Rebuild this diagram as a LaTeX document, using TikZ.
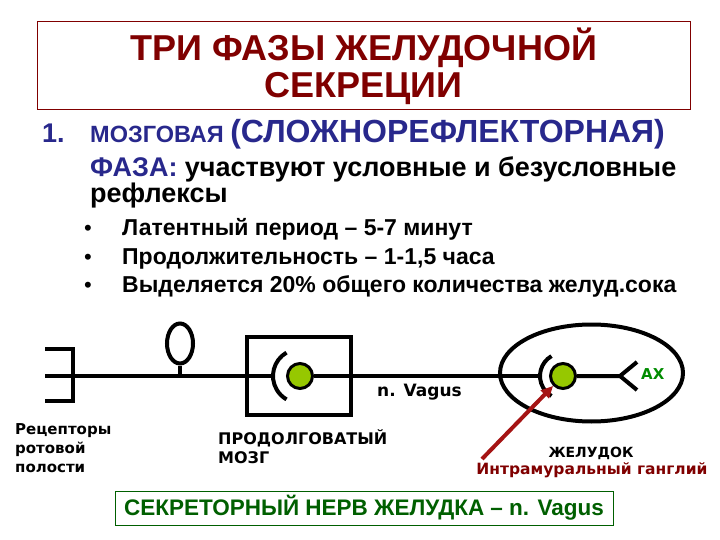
\documentclass[tikz,border=0pt]{standalone}
\usepackage{fontspec}
\setmainfont{Liberation Sans}
\newfontfamily\widefont{DejaVu Sans}
\usetikzlibrary{arrows.meta,positioning,shapes.geometric}
\definecolor{titlered}{RGB}{128,0,0}
\definecolor{navy}{RGB}{40,40,140}
\definecolor{nervegreen}{RGB}{0,95,0}
\definecolor{achgreen}{RGB}{0,140,0}
\definecolor{gangfill}{RGB}{150,200,0}
\definecolor{arrowred}{RGB}{165,20,20}
\newcommand{\fsz}[2]{\fontsize{#1}{#2}\selectfont}

\tikzset{
  nerve/.style={line width=4pt},
  ganglion/.style={circle,draw,line width=3pt,fill=gangfill,
    minimum size=25pt,inner sep=0pt},
  txt/.style={inner sep=0pt,anchor=base west},
  lbl/.style={inner sep=0pt,anchor=north west,align=left,
    font=\widefont\bfseries\fsz{15}{19}},
}

\begin{document}
\begin{tikzpicture}[x=1pt,y=-1pt]
  \useasboundingbox (0,0) rectangle (720,540);

  % title
  \node[draw=titlered,line width=1pt,minimum width=653pt,minimum height=88pt,
    align=center,text=titlered,font=\bfseries\fsz{36}{37}]
    (title) at (363.5,66) {ТРИ ФАЗЫ ЖЕЛУДОЧНОЙ\\СЕКРЕЦИИ};

  % first phase
  \node[txt,text=navy,font=\bfseries\fsz{27}{30}] (num) at (42,143) {1.};
  \node[txt,text=navy,font=\bfseries] (phase) at (90,143)
    {\fsz{23.5}{26}МОЗГОВАЯ \fsz{32}{34}(СЛОЖНОРЕФЛЕКТОРНАЯ)};
  \node[txt,font=\bfseries\fsz{27}{30}] (part) at (90,177)
    {\textcolor{navy}{ФАЗА:} участвуют условные и безусловные};
  \node[txt,font=\bfseries\fsz{27}{30}] (refl) at (90,203) {рефлексы};

  \node[txt,font=\fsz{22}{24}] (b1) at (84,236) {\textbullet};
  \node[txt,font=\fsz{22}{24}] (b2) at (84,264) {\textbullet};
  \node[txt,font=\fsz{22}{24}] (b3) at (84,292) {\textbullet};
  \node[txt,font=\bfseries\fsz{23}{24}] (t1) at (122,236)
    {Латентный период – 5-7 минут};
  \node[txt,font=\bfseries\fsz{23}{24}] (t2) at (122,264)
    {Продолжительность – 1-1,5 часа};
  \node[txt,font=\bfseries\fsz{23}{24}] (t3) at (122,292)
    {Выделяется 20\% общего количества желуд.сока};

  % reflex arc
  \coordinate (rec) at (45,376);
  \draw[nerve] (45,349) -- (73,349) -- (73,401) -- (45,401);
  \node[ellipse,draw,nerve,minimum width=26pt,minimum height=40pt,
    inner sep=0pt] (cell) at (180,343.5) {};
  \draw[nerve] (cell.south) -- (cell.south |- rec);

  \node[draw,nerve,minimum width=104pt,minimum height=78pt] (medulla)
    at (299,376) {};
  \node[ganglion] (g1) at (300,376) {};
  \coordinate (a1) at ([shift={(180:27pt)}]g1.center);
  \draw[nerve] ([shift={(120:27pt)}]g1.center)
    arc[start angle=120,end angle=240,radius=27pt];
  \draw[nerve] (rec) -- (a1);

  \node[ellipse,draw,nerve,minimum width=183pt,minimum height=97pt,
    inner sep=0pt] (stomach) at (591.5,373) {};
  \node[ganglion] (g2) at (563,376) {};
  \coordinate (a2) at ([shift={(180:23pt)}]g2.center);
  \draw[nerve] ([shift={(120:23pt)}]g2.center)
    arc[start angle=120,end angle=240,radius=23pt];
  \draw[nerve] (g1) -- (a2);

  \coordinate (fork) at (620,376);
  \coordinate (forkup) at (637,362);
  \coordinate (forkdn) at (637,390);
  \draw[nerve] (g2) -- (fork) -- (forkup);
  \draw[nerve] (fork) -- (forkdn);
  \node[anchor=west,inner sep=0pt,text=achgreen,
    font=\widefont\bfseries\fsz{15}{18}] (ach) at (641,374) {АХ};

  \node[txt,font=\widefont\bfseries\fsz{17}{18}] (vagus) at (377,396)
    {n. Vagus};

  \coordinate (tail) at (482,459);
  \draw[arrowred,line width=4pt,-{Triangle[length=12pt,width=11pt]}]
    (tail) -- (g2.south west);

  % labels
  \node[lbl] (receptor) at (15,423) {Рецепторы\\ротовой\\полости};
  \node[lbl,font=\widefont\bfseries\fsz{16}{19}] (medlbl) at (218,429)
    {ПРОДОЛГОВАТЫЙ\\МОЗГ};
  \node[txt,anchor=base,font=\widefont\bfseries\fsz{14}{17}] (stomlbl)
    at (591,457) {ЖЕЛУДОК};
  \node[txt,anchor=base,text=titlered,font=\widefont\bfseries\fsz{15.5}{17}]
    (gangl) at (592,474) {Интрамуральный ганглий};

  % secretory nerve
  \node[draw=nervegreen,line width=1pt,minimum width=498pt,minimum height=34pt,
    text=nervegreen,font=\bfseries\fsz{22.5}{24}] (secret) at (364,508)
    {СЕКРЕТОРНЫЙ НЕРВ ЖЕЛУДКА – n. Vagus};
\end{tikzpicture}
\end{document}
